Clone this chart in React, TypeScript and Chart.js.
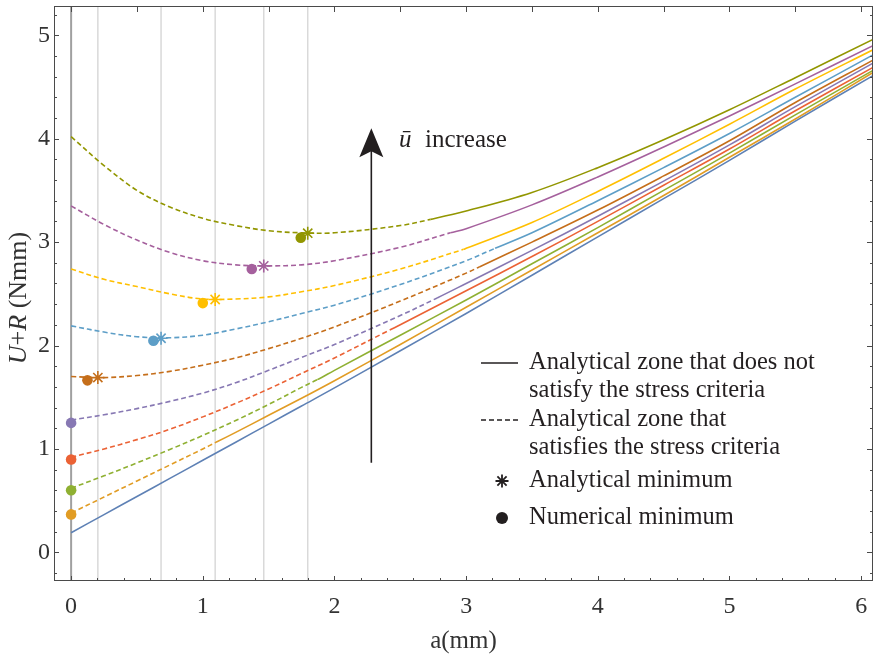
import React, { useEffect, useRef } from 'react';
import { Chart, registerables } from 'chart.js';

Chart.register(...registerables);

const FONT = "'Liberation Serif', 'Times New Roman', serif";
const INK = '#231f20';

// shared abscissa grid (mm)
const A = [0, 0.25, 0.5, 0.75, 1, 1.25, 1.5, 1.75, 2, 2.5, 3, 3.5, 4, 4.5, 5, 5.5, 6.09];

// U+R values (Nmm) read at the grid above, one array per curve (increasing u-bar)
const blueY = [0.19, 0.365, 0.54, 0.715, 0.89, 1.065, 1.24, 1.415, 1.59, 1.95, 2.31, 2.68, 3.05, 3.42, 3.79, 4.17, 4.61];
const orangeY = [0.38, 0.535, 0.69, 0.845, 1.0, 1.16, 1.325, 1.49, 1.66, 2.01, 2.37, 2.73, 3.09, 3.45, 3.82, 4.19, 4.64];
const greenY = [0.62, 0.74, 0.865, 0.995, 1.13, 1.275, 1.43, 1.595, 1.76, 2.1, 2.44, 2.79, 3.14, 3.5, 3.86, 4.23, 4.66];
const redY = [0.92, 1.0, 1.09, 1.19, 1.31, 1.44, 1.58, 1.73, 1.88, 2.2, 2.53, 2.86, 3.2, 3.55, 3.9, 4.27, 4.69];
const purpleY = [1.28, 1.33, 1.39, 1.46, 1.54, 1.64, 1.76, 1.885, 2.01, 2.29, 2.6, 2.92, 3.25, 3.59, 3.94, 4.31, 4.73];
const brownY = [1.7, 1.69, 1.71, 1.75, 1.81, 1.88, 1.97, 2.07, 2.18, 2.43, 2.7, 3.0, 3.31, 3.64, 3.98, 4.35, 4.76];
const skyY = [2.19, 2.13, 2.085, 2.075, 2.1, 2.16, 2.23, 2.31, 2.39, 2.59, 2.82, 3.09, 3.4, 3.72, 4.05, 4.4, 4.81];
const yellowY = [2.74, 2.64, 2.57, 2.5, 2.45, 2.45, 2.47, 2.52, 2.58, 2.74, 2.94, 3.19, 3.49, 3.81, 4.14, 4.48, 4.86];
const magentaY = [3.35, 3.17, 3.02, 2.9, 2.82, 2.78, 2.77, 2.78, 2.82, 2.95, 3.13, 3.36, 3.63, 3.92, 4.22, 4.53, 4.9];
const oliveY = [4.02, 3.74, 3.5, 3.34, 3.23, 3.16, 3.11, 3.09, 3.09, 3.16, 3.3, 3.48, 3.72, 3.99, 4.28, 4.59, 4.96];

const curveColors = ['#5E81B5', '#E19C24', '#8FB032', '#EB6235', '#8778B3', '#C56E1A', '#5D9EC7', '#FFBF00', '#A5609D', '#929600'];

// end of the dashed zone (stress criteria satisfied) for each curve, and the value there
const transX = [0, 1.1, 1.87, 2.42, 2.78, 3.1, 3.22, 2.98, 2.88, 2.73];
const transY = [0.19, 1.064, 1.67, 2.15, 2.46, 2.76, 2.94, 2.93, 3.09, 3.22];

// numerical minima (filled circles)
const numMinX = [0, 0, 0, 0, 0.124, 0.625, 1.0, 1.372, 1.744];
const numMinY = [0.367, 0.601, 0.898, 1.252, 1.663, 2.046, 2.41, 2.74, 3.043];
const numMinColors = ['#E19C24', '#8FB032', '#EB6235', '#8778B3', '#C56E1A', '#5D9EC7', '#FFBF00', '#A5609D', '#929600'];

// analytical minima (asterisks); grey vertical guides at the same abscissae
const anaMinX = [0.203, 0.683, 1.094, 1.463, 1.797];
const anaMinY = [1.69, 2.07, 2.445, 2.77, 3.086];
const anaMinColors = ['#C56E1A', '#5D9EC7', '#FFBF00', '#A5609D', '#929600'];

// arrow annotation (data coordinates)
const arrowX = 2.28;
const arrowFromY = 0.866;
const arrowToY = 4.1;

const xTickLabels = [0, 1, 2, 3, 4, 5, 6];
const yTickLabels = [0, 1, 2, 3, 4, 5];

const allY = [blueY, orangeY, greenY, redY, purpleY, brownY, skyY, yellowY, magentaY, oliveY];

function buildPoints(ys: number[], t: number, ty: number) {
  const pts = A.map((x, i) => ({ x, y: ys[i] }));
  if (t > 0 && !A.includes(t)) {
    pts.push({ x: t, y: ty });
    pts.sort((p, q) => p.x - q.x);
  }
  return pts;
}

function drawAsterisk(ctx: CanvasRenderingContext2D, cx: number, cy: number, r: number) {
  ctx.beginPath();
  for (let k = 0; k < 4; k++) {
    const ang = (k * Math.PI) / 4;
    ctx.moveTo(cx - r * Math.cos(ang), cy - r * Math.sin(ang));
    ctx.lineTo(cx + r * Math.cos(ang), cy + r * Math.sin(ang));
  }
  ctx.stroke();
}

const decor = {
  id: 'decor',
  beforeDatasetsDraw(chart: any) {
    const { ctx, chartArea: ca, scales } = chart;
    const xs = scales.x;
    ctx.save();
    ctx.strokeStyle = '#d9d9d9';
    ctx.lineWidth = 1.5;
    for (const v of anaMinX) {
      const px = xs.getPixelForValue(v);
      ctx.beginPath();
      ctx.moveTo(px, ca.top);
      ctx.lineTo(px, ca.bottom);
      ctx.stroke();
    }
    ctx.strokeStyle = '#a0a0a0';
    ctx.lineWidth = 2;
    const p0 = xs.getPixelForValue(0);
    ctx.beginPath();
    ctx.moveTo(p0, ca.top);
    ctx.lineTo(p0, ca.bottom);
    ctx.stroke();
    ctx.restore();
  },
  afterDatasetsDraw(chart: any) {
    const { ctx, chartArea: ca, scales } = chart;
    const xs = scales.x;
    const ys = scales.y;
    ctx.save();

    // arrow
    const ax = xs.getPixelForValue(arrowX);
    const ay0 = ys.getPixelForValue(arrowFromY);
    const ay1 = ys.getPixelForValue(arrowToY);
    ctx.strokeStyle = INK;
    ctx.fillStyle = INK;
    ctx.lineWidth = 1.6;
    ctx.beginPath();
    ctx.moveTo(ax, ay0);
    ctx.lineTo(ax, ay1 + 20);
    ctx.stroke();
    ctx.beginPath();
    ctx.moveTo(ax, ay1);
    ctx.lineTo(ax - 12, ay1 + 29);
    ctx.lineTo(ax, ay1 + 23);
    ctx.lineTo(ax + 12, ay1 + 29);
    ctx.closePath();
    ctx.fill();

    // "ū increase"
    ctx.textBaseline = 'middle';
    ctx.textAlign = 'left';
    const tx = xs.getPixelForValue(2.49);
    const ty = ys.getPixelForValue(3.985);
    ctx.font = `italic 25px ${FONT}`;
    ctx.fillText('ū', tx, ty);
    ctx.font = `25px ${FONT}`;
    ctx.fillText('increase', tx + 26, ty);

    // legend
    ctx.font = `24.5px ${FONT}`;
    ctx.lineWidth = 1.5;
    ctx.beginPath();
    ctx.moveTo(481, 363);
    ctx.lineTo(518, 363);
    ctx.stroke();
    ctx.fillText('Analytical zone that does not', 529, 363);
    ctx.fillText('satisfy the stress criteria', 529, 391);
    ctx.setLineDash([5, 3]);
    ctx.beginPath();
    ctx.moveTo(481, 420);
    ctx.lineTo(518, 420);
    ctx.stroke();
    ctx.setLineDash([]);
    ctx.fillText('Analytical zone that', 529, 420);
    ctx.fillText('satisfies the stress criteria', 529, 448);
    ctx.lineWidth = 1.8;
    drawAsterisk(ctx, 502, 481, 6.5);
    ctx.fillText('Analytical minimum', 529, 481);
    ctx.beginPath();
    ctx.arc(502, 518, 6, 0, Math.PI * 2);
    ctx.fill();
    ctx.fillText('Numerical minimum', 529, 518);

    // frame
    ctx.strokeStyle = '#4a4a4a';
    ctx.lineWidth = 1;
    ctx.strokeRect(ca.left + 0.5, ca.top + 0.5, ca.right - ca.left - 1, ca.bottom - ca.top - 1);

    // ticks (inside the frame)
    ctx.beginPath();
    for (let i = 0; i <= 30; i++) {
      const v = i / 5;
      const px = Math.round(xs.getPixelForValue(v)) + 0.5;
      if (px < ca.left || px > ca.right) continue;
      const len = i % 5 === 0 ? 5 : 3;
      ctx.moveTo(px, ca.bottom);
      ctx.lineTo(px, ca.bottom - len);
    }
    for (let i = 0; i <= 12; i++) {
      const v = i / 2;
      const px = Math.round(xs.getPixelForValue(v)) + 0.5;
      ctx.moveTo(px, ca.top);
      ctx.lineTo(px, ca.top + 6);
    }
    for (let i = -1; i <= 26; i++) {
      const v = i / 5;
      const py = Math.round(ys.getPixelForValue(v)) + 0.5;
      if (py < ca.top || py > ca.bottom) continue;
      const major = i % 5 === 0;
      ctx.moveTo(ca.left, py);
      ctx.lineTo(ca.left + (major ? 5 : 3), py);
      ctx.moveTo(ca.right, py);
      ctx.lineTo(ca.right - (major ? 6 : 3), py);
    }
    ctx.stroke();

    // y title: U+R (Nmm)
    const parts: [string, boolean][] = [['U', true], ['+', false], ['R', true], [' (Nmm)', false]];
    let total = 0;
    const widths = parts.map(([t, it]) => {
      ctx.font = `${it ? 'italic ' : ''}26px ${FONT}`;
      const w = ctx.measureText(t).width;
      total += w;
      return w;
    });
    ctx.translate(19, 298);
    ctx.rotate(-Math.PI / 2);
    ctx.fillStyle = '#333';
    let cx = -total / 2;
    parts.forEach(([t, it], k) => {
      ctx.font = `${it ? 'italic ' : ''}26px ${FONT}`;
      ctx.fillText(t, cx, 0);
      cx += widths[k];
    });
    ctx.restore();
  },
};

export default function App() {
  const ref = useRef<HTMLCanvasElement | null>(null);
  useEffect(() => {
    if (!ref.current) return;
    const lineSets = allY.map((ys, i) => {
      const t = transX[i];
      return {
        type: 'line' as const,
        data: buildPoints(ys, t, transY[i]),
        borderColor: curveColors[i],
        borderWidth: 1.6,
        pointRadius: 0,
        fill: false,
        tension: 0.35,
        order: 2,
        segment: {
          borderDash: (c: any) => (c.p1.parsed.x <= t + 1e-6 ? [5, 3] : undefined),
        },
      };
    });
    const circles = {
      type: 'scatter' as const,
      data: numMinX.map((x, i) => ({ x, y: numMinY[i] })),
      pointStyle: 'circle',
      pointRadius: 5.3,
      pointBackgroundColor: numMinColors,
      pointBorderColor: numMinColors,
      pointBorderWidth: 0,
      order: 0,
    };
    const stars = {
      type: 'scatter' as const,
      data: anaMinX.map((x, i) => ({ x, y: anaMinY[i] })),
      pointStyle: 'star',
      pointRadius: 6.5,
      pointBackgroundColor: anaMinColors,
      pointBorderColor: anaMinColors,
      pointBorderWidth: 1.6,
      order: 0,
    };
    const chart = new Chart(ref.current, {
      type: 'line',
      data: { datasets: [circles, stars, ...lineSets] as any },
      options: {
        animation: false,
        responsive: false,
        layout: { autoPadding: false, padding: { top: 6, right: 1, left: 0, bottom: 0 } },
        plugins: { legend: { display: false }, tooltip: { enabled: false } },
        scales: {
          x: {
            type: 'linear',
            min: -0.13,
            max: 6.09,
            grid: { display: false, drawTicks: false },
            border: { display: false },
            afterBuildTicks: (s: any) => {
              s.ticks = xTickLabels.map((v) => ({ value: v }));
            },
            ticks: {
              font: { family: FONT, size: 24 },
              color: '#333',
              padding: 11,
              maxRotation: 0,
              autoSkip: false,
            },
            title: {
              display: true,
              text: 'a(mm)',
              font: { family: FONT, size: 25 },
              color: '#333',
              padding: { top: 0, bottom: 4 },
            },
            afterFit: (s: any) => {
              s.height = 79;
              s.paddingLeft = 0;
              s.paddingRight = 0;
            },
          },
          y: {
            type: 'linear',
            min: -0.277,
            max: 5.283,
            grid: { display: false, drawTicks: false },
            border: { display: false },
            afterBuildTicks: (s: any) => {
              s.ticks = yTickLabels.map((v) => ({ value: v }));
            },
            ticks: {
              font: { family: FONT, size: 24 },
              color: '#333',
              padding: 4,
              autoSkip: false,
            },
            afterFit: (s: any) => {
              s.width = 54;
              s.paddingTop = 0;
              s.paddingBottom = 0;
            },
          },
        },
      } as any,
      plugins: [decor],
    });
    return () => chart.destroy();
  }, []);
  return (
    <div style={{ position: 'absolute', left: 0, top: 0, width: 874, height: 660, background: '#fff' }}>
      <canvas ref={ref} width={874} height={660} style={{ width: 874, height: 660, display: 'block' }} />
    </div>
  );
}
